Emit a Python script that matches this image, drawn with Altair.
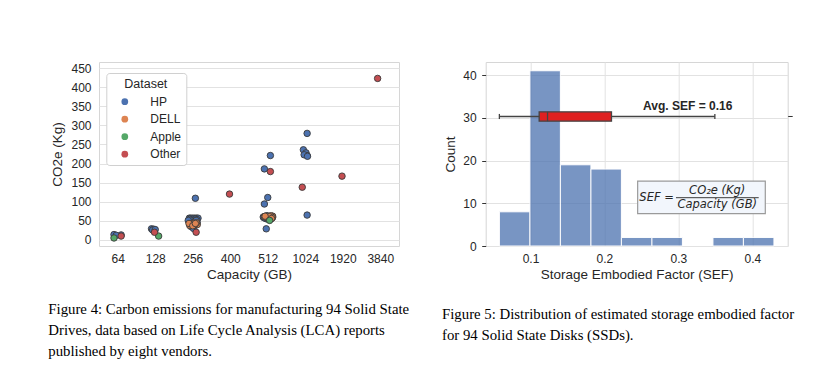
import altair as alt
import pandas as pd

# ---------------- Figure 4 data (strip plot) ----------------
capacities = ["64", "128", "256", "400", "512", "1024", "1920", "3840"]
datasets = ["HP", "DELL", "Apple", "Other"]
dataset_colors = ["#4c72b0", "#dd8452", "#55a868", "#c44e52"]

point_dataset = (["HP"] * 58) + (["DELL"] * 25) + (["Apple"] * 3) + (["Other"] * 8)
point_capacity = [
    # HP
    "64", "64", "64",
    "128", "128", "128", "128",
    "256", "256", "256", "256", "256", "256", "256", "256", "256", "256", "256",
    "256", "256", "256", "256", "256", "256", "256", "256", "256", "256", "256",
    "512", "512", "512", "512", "512", "512", "512", "512", "512", "512", "512",
    "512", "512", "512", "512", "512", "512", "512", "512", "512", "512", "512",
    "1024", "1024", "1024", "1024", "1024", "1024", "1024",
    # DELL
    "256", "256", "256", "256", "256", "256", "256", "256", "256", "256", "256",
    "512", "512", "512", "512", "512", "512", "512", "512", "512", "512", "512",
    "512", "512", "512",
    # Apple
    "64", "128", "512",
    # Other
    "64", "128", "256", "400", "512", "1024", "1920", "3840",
]
point_jitter = [
    # HP
    -0.10, 0.09, -0.04,
    -0.10, -0.04, -0.07, 0.00,
    0.07, -0.09, -0.05, 0.00, 0.05, 0.10, 0.14, -0.06, 0.03, -0.10, 0.12,
    -0.05, 0.02, -0.08, 0.08, -0.02, 0.06, 0.11, -0.12, 0.00, 0.04, 0.09,
    0.07, -0.09, 0.00, -0.09, -0.04, -0.06, 0.00, 0.06, 0.12, -0.10, 0.03,
    0.10, -0.03, 0.08, -0.12, 0.13, -0.07, 0.01, 0.09, -0.02, 0.05, 0.11,
    0.05, -0.05, 0.02, 0.05, -0.03, 0.06, 0.05,
    # DELL
    -0.05, 0.09, 0.02, -0.08, 0.12, -0.02, 0.05, -0.10, 0.10, 0.00, 0.07,
    -0.06, 0.02, 0.10, -0.02, 0.13, 0.05, -0.09, 0.00, 0.08, 0.12, -0.04,
    0.04, 0.10, -0.07,
    # Apple
    -0.10, 0.09, 0.05,
    # Other
    0.09, -0.02, 0.09, -0.02, 0.07, -0.08, -0.02, -0.07,
]
point_co2 = [
    # HP
    14, 13, 12,
    29, 28, 26, 27,
    109, 57, 57, 57, 57, 57, 57, 52, 52, 48, 45,
    35, 30, 54, 55, 50, 49, 53, 51, 44, 38, 51,
    221, 186, 111, 94, 29, 62, 62, 62, 62, 58, 58,
    58, 55, 55, 60, 59, 57, 60, 61, 63, 56, 57,
    279, 236, 228, 221, 223, 219, 65,
    # DELL
    41, 41, 44, 38, 40, 42, 39, 43, 45, 37, 43,
    60, 60, 60, 62, 62, 57, 61, 58, 63, 59, 59,
    61, 56, 62,
    # Apple
    5, 10, 51,
    # Other
    10, 20, 20, 120, 179, 138, 167, 423,
]

caption4_lines = [
    "Figure 4: Carbon emissions for manufacturing 94 Solid State",
    "Drives, data based on Life Cycle Analysis (LCA) reports",
    "published by eight vendors.",
]

# ---------------- Figure 5 data (histogram + box) ----------------
bin_edges = [0.0579, 0.0992, 0.1404, 0.1817, 0.2229, 0.2642, 0.3054, 0.3467, 0.3879, 0.4292]
bin_counts = [8, 41, 19, 18, 2, 2, 0, 2, 2]
box_stats = {"lo": 0.0579, "q1": 0.1117, "med": 0.123, "q3": 0.2095, "hi": 0.3493}
box_level = 30.3
avg_label = "Avg. SEF = 0.16"
caption5_lines = [
    "Figure 5: Distribution of estimated storage embodied factor",
    "for 94 Solid State Disks (SSDs).",
]

SANS = "Liberation Sans"
SERIF = "Liberation Serif"
TXT = "#262626"
EDGE = "#444444"
CAP_SIZE = 14.8

# ---------------- Left panel ----------------
df_pts = pd.DataFrame({
    "Dataset": point_dataset,
    "capacity": point_capacity,
    "jitter": point_jitter,
    "co2": point_co2,
})
cap_index = {c: i for i, c in enumerate(capacities)}
df_pts["pos"] = df_pts["capacity"].map(cap_index) + df_pts["jitter"]
df_pts["order"] = df_pts["Dataset"].map({d: i for i, d in enumerate(datasets)})

label_expr = "[" + ",".join(f"'{c}'" for c in capacities) + "][round(datum.value)]"

points = alt.Chart(df_pts).mark_circle(
    size=42, stroke="#3a3a3a", strokeWidth=0.9, opacity=1
).encode(
    x=alt.X("pos:Q",
            scale=alt.Scale(domain=[-0.5, 7.5], nice=False, zero=False),
            axis=alt.Axis(values=list(range(len(capacities))), labelExpr=label_expr,
                          title="Capacity (GB)", grid=False, ticks=False, domain=False,
                          labelPadding=7, titlePadding=3)),
    y=alt.Y("co2:Q",
            scale=alt.Scale(domain=[-16, 466], nice=False, zero=False),
            axis=alt.Axis(values=list(range(0, 451, 50)), title="CO2e (Kg)",
                          ticks=False, domain=False, labelPadding=8, titlePadding=6)),
    color=alt.Color("Dataset:N",
                    scale=alt.Scale(domain=datasets, range=dataset_colors),
                    legend=alt.Legend(orient="none", legendX=7.3, legendY=11,
                                      title="Dataset", titleAnchor="middle",
                                      titleFontSize=12.5, titleFontWeight="normal",
                                      titleColor=TXT, titleFont=SANS, titlePadding=5.7,
                                      labelFont=SANS, labelFontSize=12, labelColor=TXT,
                                      labelOffset=19.5, symbolOffset=8,
                                      symbolType="circle", symbolSize=45,
                                      symbolStrokeWidth=0, symbolOpacity=1,
                                      rowPadding=5.5, padding=4.5,
                                      strokeColor="#d0d0d0", fillColor="white",
                                      cornerRadius=3)),
    order=alt.Order("order:Q"),
)

cap_left = alt.Chart(pd.DataFrame({"k": [0]})).mark_text(
    text=caption4_lines, align="left", baseline="top", font=SERIF,
    fontSize=CAP_SIZE, lineHeight=21, color="black"
).encode(x=alt.value(-50.7), y=alt.value(240))

left = alt.layer(points, cap_left).properties(width=300, height=184)

# ---------------- Right panel ----------------
xs = alt.Scale(domain=[0.0394, 0.4478], nice=False, zero=False)
ys = alt.Scale(domain=[0, 43.05], nice=False, zero=False)

df_hist = pd.DataFrame({"start": bin_edges[:-1], "end": bin_edges[1:], "count": bin_counts})
df_hist = df_hist[df_hist["count"] > 0]
df_hist["zero"] = 0

bars = alt.Chart(df_hist).mark_rect(
    color="#4c72b0", opacity=0.75, stroke="white", strokeWidth=1
).encode(
    x=alt.X("start:Q", scale=xs,
            axis=alt.Axis(values=[0.1, 0.2, 0.3, 0.4], format=".1f",
                          title="Storage Embodied Factor (SEF)", ticks=False,
                          domain=False, labelPadding=7, titlePadding=3)),
    x2="end:Q",
    y=alt.Y("count:Q", scale=ys,
            axis=alt.Axis(values=[0, 10, 20, 30, 40], title="Count", ticks=True,
                          tickSize=4, tickColor="#333333", tickWidth=1,
                          domain=False, labelPadding=5.5, titlePadding=5)),
    y2="zero:Q",
)

df_box = pd.DataFrame({
    "lo": [box_stats["lo"]], "q1": [box_stats["q1"]], "med": [box_stats["med"]],
    "q3": [box_stats["q3"]], "hi": [box_stats["hi"]],
    "ypos": [box_level], "ylo": [box_level - 1.1], "yhi": [box_level + 1.1],
})
df_caps = pd.DataFrame({"cx": [box_stats["lo"], box_stats["hi"]],
                        "clo": [box_level - 0.6] * 2, "chi": [box_level + 0.6] * 2})

whisker = alt.Chart(df_box).mark_rule(color=EDGE, strokeWidth=1.3).encode(
    x=alt.X("lo:Q", scale=xs), x2="hi:Q",
    y=alt.Y("ypos:Q", scale=ys))
caps = alt.Chart(df_caps).mark_rule(color=EDGE, strokeWidth=1.3).encode(
    x=alt.X("cx:Q", scale=xs),
    y=alt.Y("clo:Q", scale=ys), y2="chi:Q")
box = alt.Chart(df_box).mark_rect(fill="#df2020", stroke=EDGE, strokeWidth=1.3).encode(
    x=alt.X("q1:Q", scale=xs), x2="q3:Q",
    y=alt.Y("ylo:Q", scale=ys), y2="yhi:Q")
median = alt.Chart(df_box).mark_rule(color=EDGE, strokeWidth=1.3).encode(
    x=alt.X("med:Q", scale=xs),
    y=alt.Y("ylo:Q", scale=ys), y2="yhi:Q")
side_tick = alt.Chart(df_box).mark_rule(color="#333333", strokeWidth=1).encode(
    x=alt.value(302.5), x2=alt.value(307),
    y=alt.Y("ypos:Q", scale=ys))

df_avg = pd.DataFrame({"x": [0.3126], "y": [32.76], "t": [avg_label]})
avg_text = alt.Chart(df_avg).mark_text(
    font=SANS, fontSize=12, fontWeight="bold", color=TXT
).encode(x=alt.X("x:Q", scale=xs), y=alt.Y("y:Q", scale=ys), text="t:N")

df_fbox = pd.DataFrame({"x": [0.2449], "x2": [0.4175], "y": [7.56], "y2": [15.2]})
fbox = alt.Chart(df_fbox).mark_rect(fill="#f2f6fc", stroke="#9a9a9a", strokeWidth=1.2).encode(
    x=alt.X("x:Q", scale=xs), x2="x2:Q",
    y=alt.Y("y:Q", scale=ys), y2="y2:Q")

df_flhs = pd.DataFrame({"x": [0.2472], "y": [11.3], "t": ["SEF ="]})
f_lhs = alt.Chart(df_flhs).mark_text(
    font="DejaVu Sans", fontStyle="italic", fontSize=11.5, align="left", color=TXT
).encode(x=alt.X("x:Q", scale=xs), y=alt.Y("y:Q", scale=ys), text="t:N")

df_frac = pd.DataFrame({"x": [0.3525, 0.3525], "y": [12.8, 9.7],
                        "t": ["CO\u2082e (Kg)", "Capacity (GB)"]})
f_frac = alt.Chart(df_frac).mark_text(
    font="DejaVu Sans", fontStyle="italic", fontSize=11.5, align="center", color=TXT
).encode(x=alt.X("x:Q", scale=xs), y=alt.Y("y:Q", scale=ys), text="t:N")

df_fline = pd.DataFrame({"x": [0.2967], "x2": [0.4086], "y": [11.3]})
f_line = alt.Chart(df_fline).mark_rule(color=TXT, strokeWidth=0.9).encode(
    x=alt.X("x:Q", scale=xs), x2="x2:Q",
    y=alt.Y("y:Q", scale=ys))

cap_right = alt.Chart(pd.DataFrame({"k": [0]})).mark_text(
    text=caption5_lines, align="left", baseline="top", font=SERIF,
    fontSize=CAP_SIZE, lineHeight=20.5, color="black"
).encode(x=alt.value(-43.7), y=alt.value(245))

right = alt.layer(
    bars, whisker, caps, box, median, side_tick, avg_text,
    fbox, f_lhs, f_frac, f_line, cap_right
).properties(width=302, height=184)

chart = alt.hconcat(left, right, spacing=86.7, bounds="flush").properties(
    padding={"left": 39, "top": 53, "right": 5, "bottom": 5}
).configure_view(
    stroke="#d6d6d6", strokeWidth=1
).configure_axis(
    labelFont=SANS, titleFont=SANS, labelFontSize=12, titleFontSize=13.5,
    labelColor=TXT, titleColor=TXT, titleFontWeight="normal",
    gridColor="#e2e2e2", gridWidth=1
)

chart.save("out.html", embed_options={"renderer": "svg", "actions": False})
